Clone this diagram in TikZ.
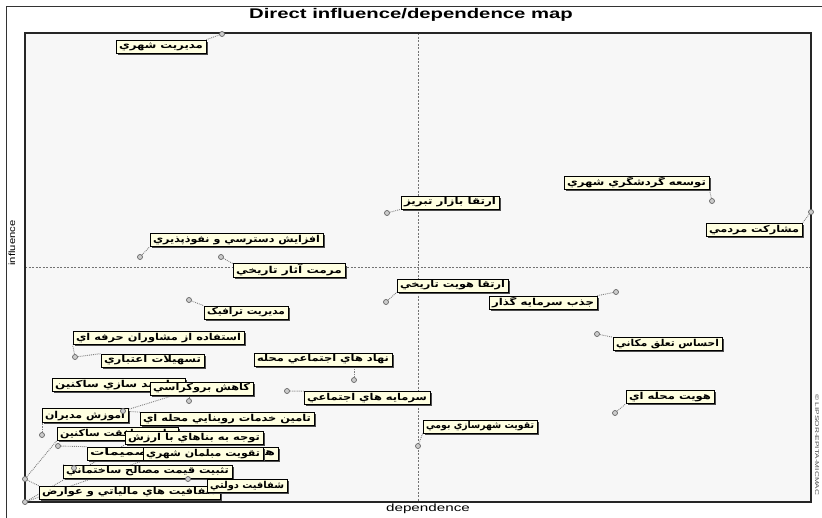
\documentclass[tikz,border=0pt]{standalone}
\usepackage{fontspec}
\setmainfont{Liberation Sans}
\newfontfamily\fa[Script=Arabic]{DejaVu Sans}
\TeXXeTstate=1
\usetikzlibrary{shadows}
\pgfdeclarelayer{back}
\pgfdeclarelayer{leaders}
\pgfsetlayers{back,leaders,main}
\definecolor{tipfill}{HTML}{FFFFE1}
\definecolor{plotbg}{HTML}{F7F7F7}
\tikzset{
  lbl/.style={draw=black, line width=0.7pt, fill=tipfill, inner sep=1pt,
    minimum height=13pt, font=\fa\bfseries\fontsize{9.5}{10}\selectfont,
    drop shadow={shadow xshift=1.8pt, shadow yshift=-1.8pt, fill=black!70, opacity=1}},
  pt/.style={circle, draw=black!60, fill=black!20, line width=0.7pt, inner sep=0pt, minimum size=5pt},
  lead/.style={draw=black!50, densely dotted, line width=0.9pt},
  midline/.style={draw=black!55, dash pattern=on 2pt off 1.5pt, line width=0.5pt},
}
% stretch a label's text sideways so that it fills its box
\newsavebox\labbox
\newcommand\fitw[2]{\sbox\labbox{#2}\pgfmathsetmacro\sx{(#1-6)/\the\wd\labbox}\scalebox{\sx}[1]{\usebox\labbox}}
\newcommand\lab[5]{\node[lbl, minimum width=#4pt] (#1) at (#2,#3) {\fitw{#4}{#5}};}
\begin{document}
\begin{tikzpicture}[x=1pt,y=-1pt]
\useasboundingbox (0,0) rectangle (822,517);
\begin{pgfonlayer}{back}
  \fill[white] (0,0) rectangle (822,517);
  \draw[black!80, line width=0.8pt] (6,6) rectangle (840,540);
  \fill[plotbg] (25,33) rectangle (811,502);
  \draw[midline] (418,33) -- (418,502);
  \draw[midline] (25,267) -- (811,267);
  \draw[black!85, line width=1.3pt] (25,33) rectangle (811,502);
\end{pgfonlayer}

% titles and axes
\node[font=\bfseries\fontsize{14}{16}\selectfont] (title) at (411,15) {\scalebox{1.45}[1]{Direct influence/dependence map}};
\node[font=\fontsize{9}{10}\selectfont, rotate=90] (yax) at (12,243) {\scalebox{1.25}[1]{influence}};
\node[font=\fontsize{10.5}{11}\selectfont] (xax) at (428,509) {\scalebox{1.45}[1]{dependence}};
\node[font=\fontsize{5.5}{6}\selectfont, rotate=-90, text=black!70] (copy) at (817,445) {\scalebox{1.5}[1]{© LIPSOR-EPITA-MICMAC}};

% variable labels
\lab{l1}{161}{46.5}{90}{\beginR مدیریت شهري\endR}
\lab{l2}{636.5}{182.5}{145}{\beginR توسعه گردشگري شهري\endR}
\lab{l3}{450}{202.5}{98}{\beginR ارتقا بازار تبريز\endR}
\lab{l4}{754}{230}{96}{\beginR مشارکت مردمي\endR}
\lab{l5}{236.5}{240}{173}{\beginR افزايش دسترسي و نفوذپذيري\endR}
\lab{l6}{289}{270.5}{112}{\beginR مرمت آثار تاريخي\endR}
\lab{l7}{246}{312.5}{84}{\beginR مديريت ترافيک\endR}
\lab{l8}{452.5}{285.5}{111}{\beginR ارتقا هويت تاريخي\endR}
\lab{l9}{543}{302.5}{108}{\beginR جذب سرمايه گذار\endR}
\lab{l10}{667.5}{344}{109}{\beginR احساس تعلق مکاني\endR}
\lab{l11}{670}{397}{88}{\beginR هويت محله اي\endR}
\lab{l12}{323}{359.5}{138}{\beginR نهاد هاي اجتماعي محله\endR}
\lab{l13}{367}{398}{126}{\beginR سرمايه هاي اجتماعي\endR}
\lab{l14}{480}{426.5}{114}{\beginR تقويت شهرسازي بومي\endR}
\lab{l15}{158.5}{338}{171}{\beginR استفاده از مشاوران حرفه اي\endR}
\lab{l16}{152.5}{360.5}{103}{\beginR تسهيلات اعتباري\endR}
\lab{l17}{118.5}{385}{133}{\beginR توانمند سازي ساکنين\endR}
\lab{l18}{201.5}{388.5}{103}{\beginR کاهش بروکراسي\endR}
\lab{l19}{85}{415.5}{86}{\beginR آموزش مديران\endR}
\lab{l20}{227}{419}{174}{\beginR تامين خدمات روبنايي محله اي\endR}
\lab{l21}{117.5}{434}{121}{\beginR جلب موافقت ساکنين\endR}
\lab{l22}{194}{438}{138}{\beginR توجه به بناهاي با ارزش\endR}
\lab{l23}{182.5}{453.5}{191}{\beginR همکاري مردم در تصميمات\endR}
\lab{l24}{203}{454}{120}{\beginR تقويت مبلمان شهري\endR}
\lab{l25}{147.5}{471.5}{169}{\beginR تثبيت قيمت مصالح ساختماني\endR}
\lab{l27}{129.5}{492.5}{181}{\beginR شفافيت هاي مالياتي و عوارض\endR}
\lab{l26}{247}{486}{80}{\beginR شفافيت دولتي\endR}

% variable positions
\node[pt] (p1) at (222,34) {};
\node[pt] (p2) at (712,201) {};
\node[pt] (p3) at (387,213) {};
\node[pt] (p4) at (811,212) {};
\node[pt] (p5) at (140,257) {};
\node[pt] (p6) at (221,257) {};
\node[pt] (p7) at (189,300) {};
\node[pt] (p8) at (386,302) {};
\node[pt] (p9) at (616,292) {};
\node[pt] (p10) at (597,334) {};
\node[pt] (p11) at (615,413) {};
\node[pt] (p12) at (354,380) {};
\node[pt] (p13) at (287,391) {};
\node[pt] (p14) at (418,446) {};
\node[pt] (p15) at (75,357) {};
\node[pt] (p17) at (123,411) {};
\node[pt] (p18) at (189,401) {};
\node[pt] (p19) at (42,435) {};
\node[pt] (p21) at (25,479) {};
\node[pt] (p23) at (58,446) {};
\node[pt] (p22) at (25,502) {};
\node[pt] (p25) at (74,468) {};
\node[pt] (p26) at (188,479) {};

% leader lines
\begin{pgfonlayer}{leaders}
\draw[lead] (p1) -- (l1.north east);
\draw[lead] (p2) -- (l2.south east);
\draw[lead] (p3) -- (l3.south west);
\draw[lead] (p4) -- (l4.north east);
\draw[lead] (p5) -- (l5.south west);
\draw[lead] (p6) -- (l6.north west);
\draw[lead] (p7) -- (l7.north west);
\draw[lead] (p8) -- (l8.south west);
\draw[lead] (p9) -- (l9.north east);
\draw[lead] (p10) -- (l10.north west);
\draw[lead] (p11) -- (l11.south west);
\draw[lead] (p12) -- (p12 |- l12.south);
\draw[lead] (p13) -- (l13.north west);
\draw[lead] (p14) -- (l14.south west);
\draw[lead] (p15) -- (l15.south west);
\draw[lead] (p15) -- (l16.north west);
\draw[lead] (p17) -- (l17.south east);
\draw[lead] (p17) -- (l20.north west);
\draw[lead] (p18) -- (p18 |- l18.south);
\draw[lead] (p19) -- (p19 |- l19.south);
\draw[lead] (p21) -- (l21.south west);
\draw[lead] (p23) -- (l23.north west);
\draw[lead] (p22) -- (l22.south west);
\draw[lead] (p22) -- (l24.south west);
\draw[lead] (p25) -- (l25.north west);
\draw[lead] (p26) -- (l26.north west);
\draw[lead] (p21) -- (l27.north west);
\end{pgfonlayer}
\end{tikzpicture}
\end{document}
